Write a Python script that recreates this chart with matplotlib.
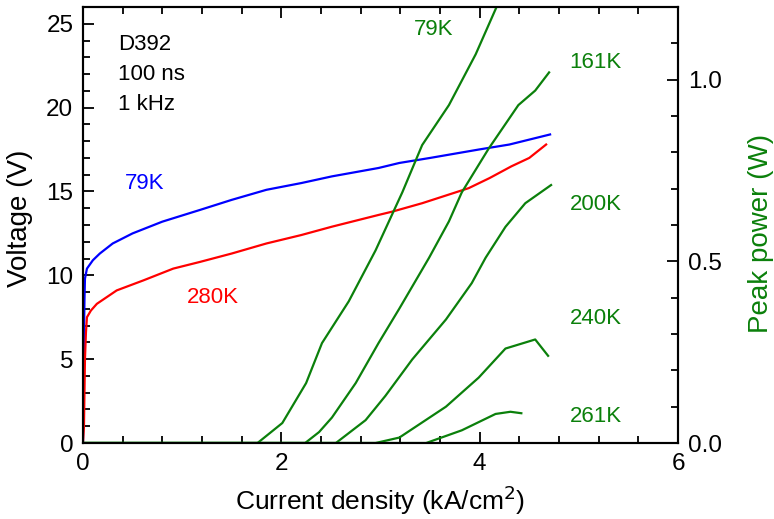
import numpy as np
import matplotlib.pyplot as plt
from matplotlib.ticker import MultipleLocator

plt.rcParams['font.family'] = ['Liberation Sans', 'DejaVu Sans']

# voltage curves (kA/cm2, V)
j_79K_v = [0.0, 0.005, 0.01, 0.015, 0.02, 0.04, 0.1, 0.17, 0.3, 0.5, 0.8, 1.18, 1.5, 1.85, 2.2, 2.51, 2.98, 3.19, 3.5, 3.99, 4.3, 4.71]
v_79K = [0.0, 3.0, 6.5, 8.5, 9.8, 10.4, 10.9, 11.3, 11.9, 12.5, 13.2, 13.9, 14.5, 15.1, 15.5, 15.9, 16.4, 16.7, 17.0, 17.5, 17.8, 18.4]

j_280K_v = [0.0, 0.01, 0.02, 0.03, 0.04, 0.08, 0.14, 0.34, 0.61, 0.91, 1.18, 1.5, 1.85, 2.2, 2.51, 2.98, 3.12, 3.42, 3.89, 4.1, 4.32, 4.5, 4.67]
v_280K = [0.0, 1.0, 5.0, 6.6, 7.5, 7.9, 8.3, 9.1, 9.7, 10.4, 10.8, 11.3, 11.9, 12.4, 12.9, 13.6, 13.8, 14.3, 15.2, 15.8, 16.5, 17.0, 17.8]

# peak power curves (kA/cm2, W)
j_79K_p = [0.0, 1.76, 2.01, 2.25, 2.41, 2.68, 2.95, 3.22, 3.42, 3.69, 3.96, 4.17]
p_79K = [0.0, 0.0, 0.055, 0.165, 0.275, 0.39, 0.53, 0.69, 0.82, 0.93, 1.07, 1.2]

j_161K = [0.0, 2.24, 2.38, 2.51, 2.75, 2.98, 3.19, 3.49, 3.69, 3.82, 4.09, 4.29, 4.39, 4.56, 4.70]
p_161K = [0.0, 0.0, 0.03, 0.07, 0.165, 0.275, 0.37, 0.51, 0.61, 0.69, 0.81, 0.89, 0.93, 0.97, 1.02]

j_200K = [0.0, 2.55, 2.85, 3.05, 3.32, 3.66, 3.92, 4.06, 4.26, 4.46, 4.72]
p_200K = [0.0, 0.0, 0.063, 0.13, 0.23, 0.34, 0.44, 0.51, 0.595, 0.66, 0.71]

j_240K = [0.0, 2.95, 3.19, 3.66, 3.99, 4.26, 4.56, 4.69]
p_240K = [0.0, 0.0, 0.015, 0.10, 0.18, 0.26, 0.285, 0.24]

j_261K = [0.0, 3.46, 3.82, 4.16, 4.31, 4.42]
p_261K = [0.0, 0.0, 0.035, 0.08, 0.086, 0.082]

blue = '#0000ff'
red = '#ff0000'
green = '#0b800b'

fig = plt.figure(figsize=(7.74, 5.19), dpi=100)
ax = fig.add_axes([0.1072, 0.1464, 0.7688, 0.8401])
ax2 = ax.twinx()

ax.plot(j_79K_v, v_79K, color=blue, lw=1.6)
ax.plot(j_280K_v, v_280K, color=red, lw=1.6)

for jj, pp in [(j_79K_p, p_79K), (j_161K, p_161K), (j_200K, p_200K), (j_240K, p_240K), (j_261K, p_261K)]:
    ax2.plot(jj, pp, color=green, lw=1.6)

ax.set_xlim(0, 6)
ax.set_ylim(0, 26)
ax2.set_ylim(0, 1.2)

ax.xaxis.set_major_locator(MultipleLocator(2))
ax.xaxis.set_minor_locator(MultipleLocator(0.4))
ax.yaxis.set_major_locator(MultipleLocator(5))
ax.yaxis.set_minor_locator(MultipleLocator(1))
ax2.yaxis.set_major_locator(MultipleLocator(0.5))
ax2.yaxis.set_minor_locator(MultipleLocator(0.1))
ax2.yaxis.set_major_formatter(plt.FormatStrFormatter('%.1f'))

ax.tick_params(which='both', direction='in', top=True, right=False, labelsize=17.5, width=1.3, pad=7)
ax.tick_params(which='major', length=8)
ax.tick_params(which='minor', length=5)
ax2.tick_params(which='both', direction='in', labelsize=17.5, width=1.3, pad=7)
ax2.tick_params(which='major', length=8)
ax2.tick_params(which='minor', length=5)

for a in (ax, ax2):
    for s in a.spines.values():
        s.set_linewidth(1.5)

ax.set_xlabel('Current density (kA/cm$^2$)', fontsize=19)
ax.set_ylabel('Voltage (V)', fontsize=20)
ax2.set_ylabel('Peak power (W)', fontsize=20, color=green)
ax.xaxis.set_label_coords(0.5, -0.093)
ax.yaxis.set_label_coords(-0.084, 0.516)
ax2.yaxis.set_label_coords(1.118, 0.48)

ax.text(0.35, 23.75, 'D392', fontsize=16, va='center')
ax.text(0.35, 21.96, '100 ns', fontsize=16, va='center')
ax.text(0.35, 20.17, '1 kHz', fontsize=16, va='center')

ax.text(0.62, 15.5, '79K', color=blue, fontsize=16, ha='center', va='center')
ax.text(1.31, 8.7, '280K', color=red, fontsize=16, ha='center', va='center')

for lbl, xx, yy in [('79K', 3.54, 1.138), ('161K', 5.17, 1.047), ('200K', 5.17, 0.656),
                    ('240K', 5.17, 0.344), ('261K', 5.17, 0.072)]:
    ax2.text(xx, yy, lbl, color=green, fontsize=16, ha='center', va='center')

fig.savefig('out.png', dpi=100)
